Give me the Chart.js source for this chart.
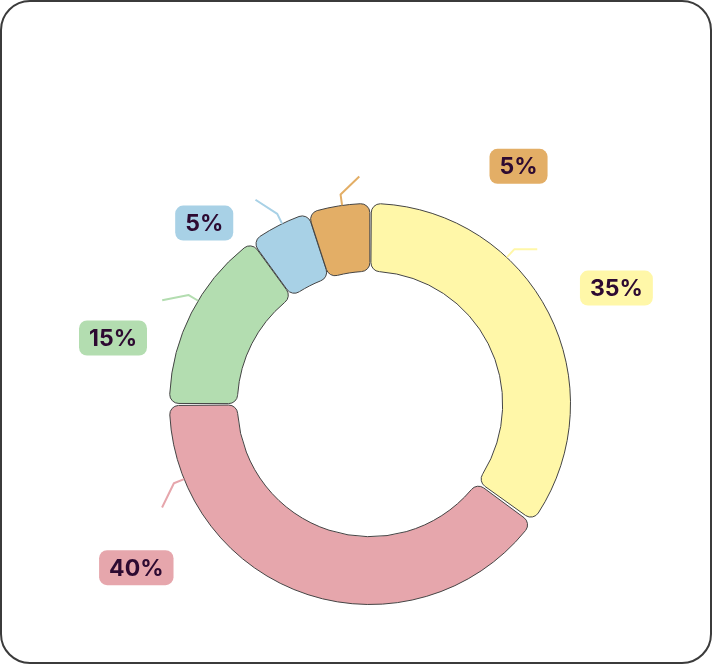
<!DOCTYPE html>
<html>
<head>
<meta charset="utf-8">
<script src="https://cdn.jsdelivr.net/npm/chart.js@4.4.1/dist/chart.umd.min.js"></script>
<style>
html,body{margin:0;padding:0;background:#fff;}
#wrap{position:relative;width:712px;height:664px;}
#frame{position:absolute;left:0;top:0;width:712px;height:664px;box-sizing:border-box;border:2px solid #3b3b3b;border-radius:30px;pointer-events:none;}
canvas{position:absolute;left:0;top:0;}
</style>
</head>
<body>
<div id="wrap">
<canvas id="c" width="712" height="664"></canvas>
<div id="frame"></div>
</div>
<script>
// ---- data ----
const categories = ['Segment A', 'Segment B', 'Segment C', 'Segment D', 'Segment E'];
const values = [35, 40, 15, 5, 5];
const valueLabels = ['35%', '40%', '15%', '5%', '5%'];
const colors = ['#FFF7A8', '#E6A6AC', '#B3DDB0', '#A8D1E6', '#E3AE66'];

// ---- label layout (style/position config, not data) ----
const labelLayout = [
  {anchorShift: -20, elbowDir: 0,    elbowLen: 23, labelAngle: 64.8,  labelR: 1.365},
  {anchorShift: 50,  elbowDir: 116,  elbowLen: 27, labelAngle: 235,   labelR: 1.43},
  {anchorShift: 4,   elbowDir: 169,  elbowLen: 27, labelAngle: 284.4, labelR: 1.33},
  {anchorShift: 1,   elbowDir: -147, elbowLen: 26, labelAngle: 317.5, labelR: 1.23},
  {anchorShift: 1,   elbowDir: -44,  elbowLen: 26, labelAngle: 32,    labelR: 1.405}
];

const labelPlugin = {
  id: 'outLabels',
  afterDatasetsDraw(chart) {
    const ctx = chart.ctx;
    const meta = chart.getDatasetMeta(0);
    ctx.save();
    meta.data.forEach((arc, i) => {
      const p = arc.getProps(['x','y','startAngle','endAngle','outerRadius'], true);
      const cx = p.x, cy = p.y, R = p.outerRadius;
      const L = labelLayout[i];
      const mid = (p.startAngle + p.endAngle) / 2 + L.anchorShift * Math.PI / 180;
      const x0 = cx + (R + 1) * Math.cos(mid), y0 = cy + (R + 1) * Math.sin(mid);
      const x1 = cx + (R + 12) * Math.cos(mid), y1 = cy + (R + 12) * Math.sin(mid);
      const ed = L.elbowDir * Math.PI / 180;
      const x2 = x1 + L.elbowLen * Math.cos(ed), y2 = y1 + L.elbowLen * Math.sin(ed);
      ctx.beginPath();
      ctx.moveTo(x0, y0); ctx.lineTo(x1, y1); ctx.lineTo(x2, y2);
      ctx.strokeStyle = colors[i];
      ctx.lineWidth = 2;
      ctx.lineJoin = 'round';
      ctx.stroke();

      const la = (L.labelAngle - 90) * Math.PI / 180;
      const lx = cx + L.labelR * R * Math.cos(la), ly = cy + L.labelR * R * Math.sin(la);
      ctx.font = '700 23px Inter, "Noto Sans", sans-serif';
      const tw = ctx.measureText(valueLabels[i]).width;
      const bw = tw + 20, bh = 35;
      ctx.beginPath();
      ctx.roundRect(lx - bw / 2, ly - bh / 2, bw, bh, 8);
      ctx.fillStyle = colors[i];
      ctx.fill();
      ctx.fillStyle = '#2D0A31';
      ctx.textAlign = 'center';
      ctx.textBaseline = 'middle';
      ctx.fillText(valueLabels[i], lx, ly + 1);
    });
    ctx.restore();
  }
};

new Chart(document.getElementById('c'), {
  type: 'doughnut',
  data: {
    labels: categories,
    datasets: [{
      data: values,
      backgroundColor: colors,
      borderColor: '#444444',
      borderWidth: 1,
      borderRadius: 9,
      spacing: 2
    }]
  },
  options: {
    responsive: false,
    animation: false,
    cutout: '66%',
    layout: {padding: {left: 169, right: 141, top: 203, bottom: 59}},
    plugins: {legend: {display: false}, tooltip: {enabled: false}}
  },
  plugins: [labelPlugin]
});
</script>
</body>
</html>
